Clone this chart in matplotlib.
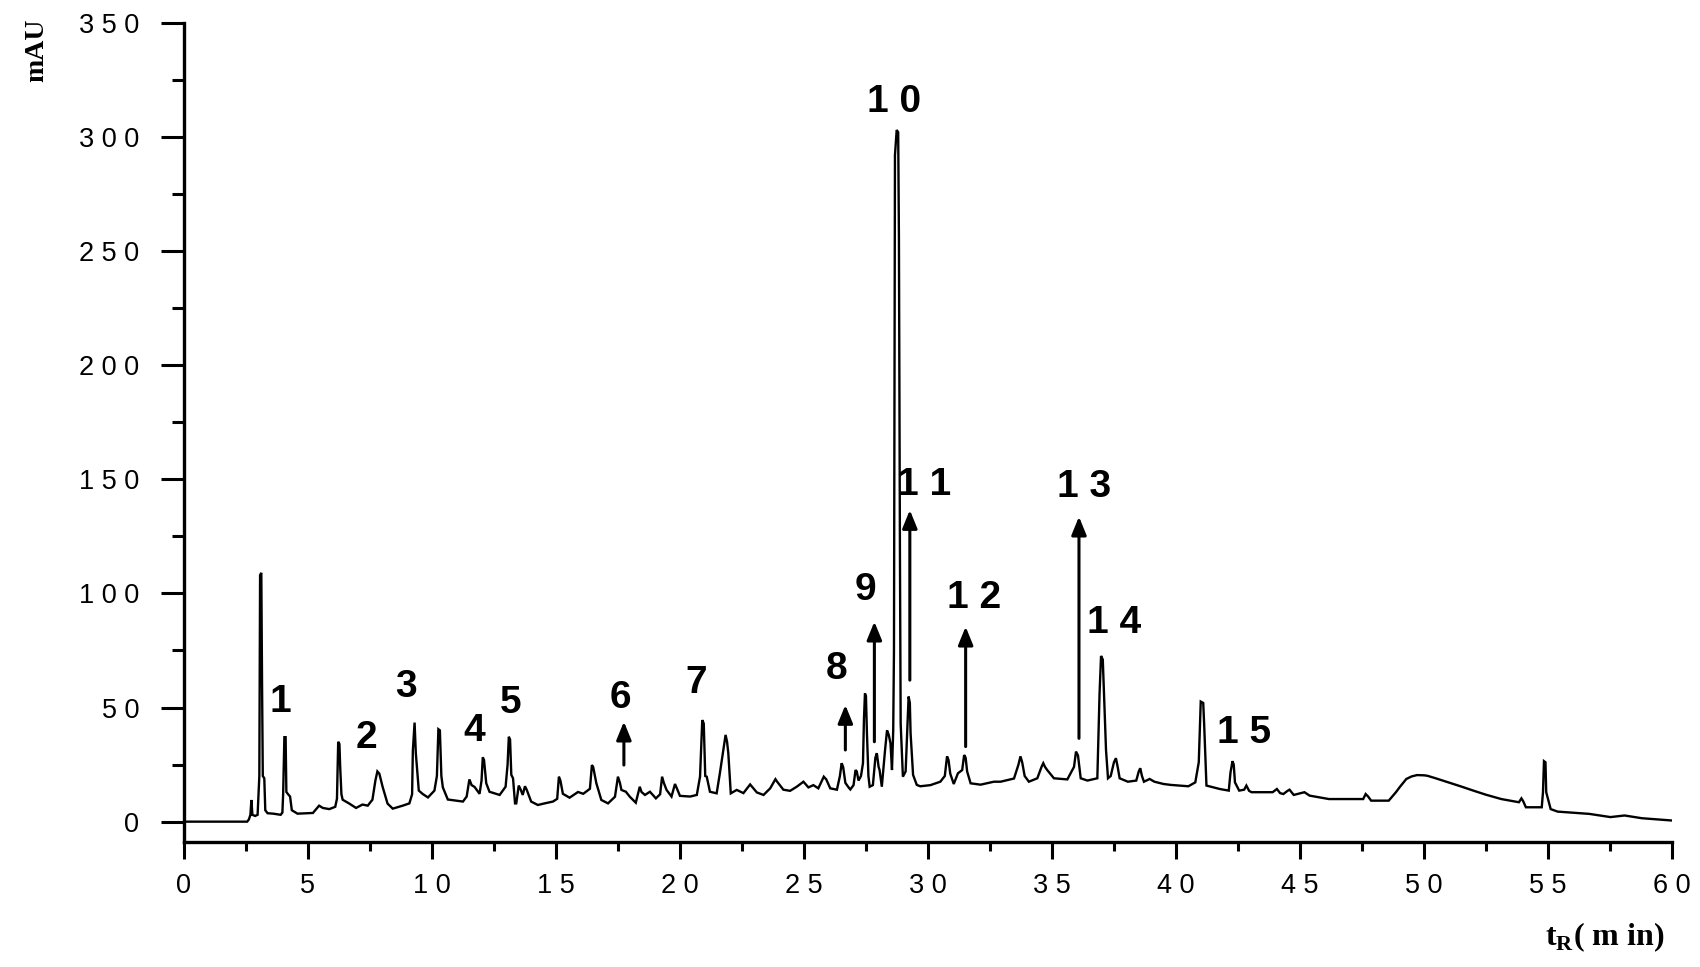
import matplotlib
matplotlib.use("Agg")
import matplotlib.pyplot as plt
from matplotlib.ticker import MultipleLocator, FixedLocator, FixedFormatter

# chromatogram trace (time in min, signal in mAU)
trace_time = [0.0, 2.55, 2.62, 2.68, 2.72, 2.76, 2.87, 2.97, 3.04, 3.07, 3.12, 3.15, 3.18, 3.24, 3.28, 3.37,
              3.6, 3.9, 3.97, 4.0, 4.05, 4.1, 4.13, 4.2, 4.28, 4.35, 4.58, 5.2, 5.45, 5.6, 5.86, 6.1,
              6.17, 6.22, 6.27, 6.3, 6.35, 6.4, 6.67, 6.94, 7.2, 7.41, 7.6, 7.72, 7.8, 7.88, 8.01, 8.21,
              8.42, 8.82, 9.09, 9.2, 9.23, 9.3, 9.35, 9.47, 9.63, 9.84, 10.1, 10.2, 10.26, 10.32, 10.38, 10.44,
              10.64, 11.25, 11.4, 11.51, 11.6, 11.72, 11.92, 12.0, 12.05, 12.1, 12.19, 12.32, 12.73, 12.97, 13.05, 13.1,
              13.15, 13.2, 13.27, 13.35, 13.4, 13.5, 13.58, 13.66, 13.75, 13.82, 14.0, 14.27, 14.54, 14.88, 15.05, 15.12,
              15.18, 15.28, 15.55, 15.89, 16.1, 16.37, 16.45, 16.5, 16.63, 16.83, 17.1, 17.38, 17.5, 17.58, 17.64, 17.82,
              17.98, 18.22, 18.38, 18.45, 18.59, 18.79, 19.03, 19.2, 19.28, 19.35, 19.46, 19.66, 19.8, 19.86, 20.0, 20.41,
              20.68, 20.81, 20.9, 20.96, 21.02, 21.08, 21.21, 21.48, 21.61, 21.75, 21.84, 21.9, 21.95, 22.05, 22.29, 22.56,
              22.83, 23.1, 23.37, 23.64, 23.85, 23.92, 24.17, 24.44, 24.71, 24.98, 25.18, 25.38, 25.58, 25.8, 25.9, 26.06,
              26.33, 26.45, 26.52, 26.58, 26.67, 26.8, 26.87, 27.0, 27.08, 27.13, 27.2, 27.3, 27.38, 27.42, 27.46, 27.5,
              27.54, 27.6, 27.65, 27.78, 27.88, 27.94, 28.01, 28.05, 28.14, 28.22, 28.27, 28.35, 28.42, 28.49, 28.55, 28.6,
              28.63, 28.67, 28.74, 28.8, 28.83, 28.87, 28.9, 28.99, 29.1, 29.16, 29.22, 29.27, 29.3, 29.4, 29.55, 29.69,
              30.1, 30.5, 30.68, 30.77, 30.83, 30.9, 31.04, 31.21, 31.38, 31.46, 31.52, 31.58, 31.72, 32.12, 32.66, 32.93,
              33.47, 33.65, 33.73, 33.8, 33.9, 34.07, 34.41, 34.58, 34.65, 34.72, 34.81, 35.08, 35.62, 35.89, 35.97, 36.05,
              36.16, 36.43, 36.83, 36.92, 36.98, 37.05, 37.1, 37.18, 37.26, 37.37, 37.5, 37.58, 37.65, 37.73, 38.06, 38.4,
              38.5, 38.56, 38.63, 38.71, 38.94, 39.13, 39.5, 39.79, 40.5, 40.78, 40.92, 41.0, 41.1, 41.14, 41.23, 41.77,
              42.13, 42.2, 42.28, 42.33, 42.38, 42.55, 42.75, 42.84, 42.95, 43.05, 43.9, 44.07, 44.2, 44.33, 44.5, 44.58,
              44.75, 45.18, 45.39, 46.17, 47.55, 47.65, 47.75, 47.87, 48.58, 48.87, 49.05, 49.29, 49.5, 49.72, 50.0, 50.14,
              50.5, 50.99, 51.5, 51.99, 52.5, 53.12, 53.83, 53.93, 54.0, 54.11, 54.75, 54.8, 54.84, 54.9, 54.93, 55.11,
              55.39, 56.67, 57.52, 58.09, 58.79, 60.0]
trace_mau = [0, 0, 1, 3, 9.5, 3, 2.5, 3, 20, 108, 109, 60, 20, 19, 5, 3.7,
             3.5, 3, 4, 12, 37, 37, 13, 12, 11, 5, 3.5, 3.8, 7, 6, 5.5, 6.5,
             10, 35, 34, 24, 12, 9.6, 7.9, 6, 7.5, 7, 9.6, 18, 22, 21, 15.3, 7.9,
             5.7, 7, 8, 12, 31, 43.4, 30, 13.6, 12.1, 10.6, 13.6, 20, 40.5, 40, 20, 15,
             9.7, 8.8, 11, 18.5, 16, 15.2, 12.2, 18, 28.2, 27, 16.8, 13.1, 11.7, 15.3, 25, 37.2,
             36, 20.5, 19, 8, 8, 15.8, 14, 11.7, 15.5, 14, 8.8, 7.3, 8, 8.8, 10, 19.7,
             18, 12.2, 10.5, 13, 12.2, 14.4, 24.8, 24, 16.8, 9.5, 8, 10.9, 19.7, 17, 13.9, 13.1,
             10.9, 8.3, 15.3, 13, 11.7, 13.1, 10.2, 12, 19.7, 17, 13.9, 11, 16.5, 15, 11.3, 11,
             11.7, 19.7, 44.5, 43, 20, 19.7, 13.1, 12.4, 21.2, 31.5, 38, 35, 30, 12.4, 13.9, 12.5,
             16.3, 12.8, 11.7, 14.6, 18.6, 17.5, 14, 13.5, 15.3, 17.5, 15, 16, 14.6, 19.7, 18.5, 14.6,
             14, 20, 25.6, 24, 17, 15, 14.1, 16, 22.6, 22, 18, 20, 25.6, 45, 56.2, 55,
             38.7, 20, 15.3, 16, 28, 30, 24, 22.6, 15.3, 25, 31.3, 40, 38, 34.3, 22.6, 40,
             75, 292, 303, 302, 256, 120, 43, 19.7, 22, 38.7, 54.8, 52, 38.7, 20.5, 16.1, 15.5,
             16, 17.5, 20, 28.6, 27, 21, 16.5, 21.2, 22.6, 29.2, 28, 22, 16.8, 16.2, 17.5, 17.5,
             18.9, 25, 28.6, 26, 20, 17.5, 19, 24, 25.6, 24, 22.6, 19, 18.5, 24, 30.7, 29,
             19, 18, 19, 56.2, 72.6, 71, 56, 31.4, 19, 20, 26, 27.8, 24, 19, 17.5, 18,
             22, 23.4, 20, 17.5, 18.7, 17.5, 16.5, 16.1, 15.5, 17.2, 26, 52.6, 52, 42, 15.8, 14.3,
             13.6, 21.6, 26.5, 25, 17.2, 13.6, 14, 15.8, 13.5, 12.9, 12.9, 14.3, 12.5, 12.1, 13.5, 14,
             11.7, 12.9, 11.4, 9.9, 9.9, 12.1, 11, 9.2, 9.2, 12.9, 15.5, 18.7, 19.8, 20.4, 20.3, 20.1,
             18.9, 17.2, 15.4, 13.6, 11.8, 9.9, 8.5, 10.2, 9, 6.3, 6.3, 12.9, 26.5, 26, 12.9, 5.5,
             4.4, 3.4, 2, 2.7, 1.5, 0.5]

# peak numbers (text, position of the label centre)
peak_labels = ["1", "2", "3", "4", "5", "6", "7", "8", "9", "1 0", "1 1", "1 2", "1 3", "1 4", "1 5"]
peak_label_t = [3.87, 7.37, 8.96, 11.72, 13.16, 17.6, 20.67, 26.33, 27.47, 28.62, 29.85, 31.85, 36.3, 37.51, 42.75]
peak_label_y = [52.6, 36.5, 59.1, 39.9, 52.1, 54.0, 60.6, 67.0, 101.5, 315.4, 147.7, 97.8, 146.7, 86.9, 38.7]

# arrows pointing at peaks 6, 8, 9, 11, 12, 13
arrow_t = [17.74, 26.67, 27.84, 29.27, 31.52, 36.09]
arrow_from = [24.8, 31.4, 35.0, 62.0, 32.9, 36.5]
arrow_to = [43.8, 51.1, 87.6, 136.5, 85.4, 133.6]

y_ticks = [0, 50, 100, 150, 200, 250, 300, 350]
y_tick_labels = ["0", "5 0", "1 0 0", "1 5 0", "2 0 0", "2 5 0", "3 0 0", "3 5 0"]
x_ticks = [0, 5, 10, 15, 20, 25, 30, 35, 40, 45, 50, 55, 60]
x_tick_labels = ["0", "5", "1 0", "1 5", "2 0", "2 5", "3 0", "3 5", "4 0", "4 5", "5 0", "5 5", "6 0"]

plt.rcParams['font.family'] = ['Liberation Sans', 'DejaVu Sans']
plt.rcParams['mathtext.fontset'] = 'custom'
plt.rcParams['mathtext.rm'] = 'Liberation Serif'
plt.rcParams['mathtext.bf'] = 'Liberation Serif:bold'

fig = plt.figure(figsize=(17, 9.67), dpi=100)
ax = fig.add_axes([0.1082, 0.1293, 0.8753, 0.8472])

ax.plot(trace_time, trace_mau, color="black", lw=1.7, solid_joinstyle="miter")

for txt, t, y in zip(peak_labels, peak_label_t, peak_label_y):
    ax.text(t, y, txt, ha="center", va="center", fontsize=28, fontweight="bold")

for t, y0, y1 in zip(arrow_t, arrow_from, arrow_to):
    ax.annotate("", xy=(t, y1), xytext=(t, y0),
                arrowprops=dict(arrowstyle="-|>,head_length=1.1,head_width=0.45",
                                lw=2.2, color="black", shrinkA=0, shrinkB=0,
                                mutation_scale=10))

ax.set_xlim(0, 60)
ax.set_ylim(-8.9, 350)

for side in ["top", "right"]:
    ax.spines[side].set_visible(False)
for side in ["left", "bottom"]:
    ax.spines[side].set_linewidth(2.4)

ax.yaxis.set_major_locator(FixedLocator(y_ticks))
ax.yaxis.set_major_formatter(FixedFormatter(y_tick_labels))
ax.yaxis.set_minor_locator(MultipleLocator(25))
ax.xaxis.set_major_locator(FixedLocator(x_ticks))
ax.xaxis.set_major_formatter(FixedFormatter(x_tick_labels))
ax.xaxis.set_minor_locator(MultipleLocator(2.5))

ax.tick_params(axis="y", which="major", direction="out", length=16.5, width=2.2, pad=15.5, labelsize=19.5)
ax.tick_params(axis="y", which="minor", direction="out", length=8.4, width=2.2)
ax.tick_params(axis="x", which="major", direction="out", length=12, width=2.2, pad=10.5, labelsize=19.5)
ax.tick_params(axis="x", which="minor", direction="out", length=6.3, width=2.2)

fig.text(0.0215, 0.948, "mAU", rotation=90, ha="center", va="center",
         fontsize=20, fontweight="bold", family="Liberation Serif")
fig.text(0.944, 0.031, r"$\mathbf{t}_{\mathbf{R}}$( m in)", ha="center", va="center",
         fontsize=23, fontweight="bold", family="Liberation Serif")

fig.savefig("out.png", dpi=100)
